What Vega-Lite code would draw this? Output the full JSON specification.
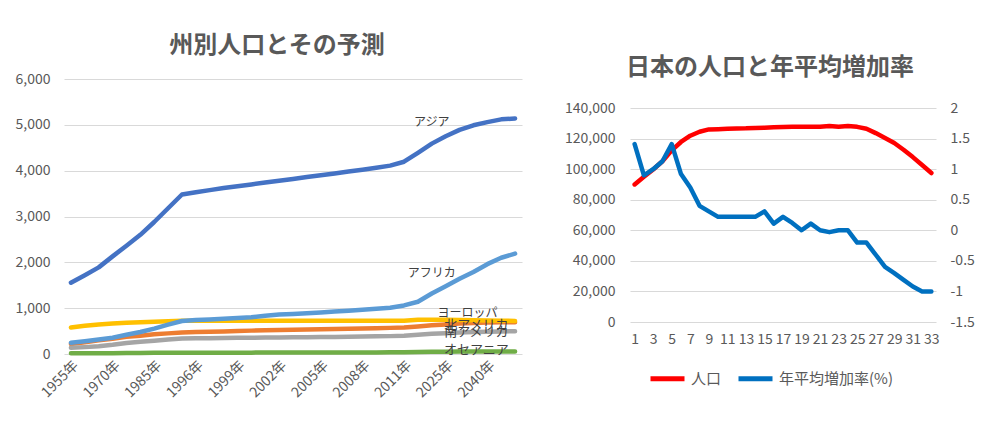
{
  "$schema": "https://vega.github.io/schema/vega-lite/v6.json",
  "background": "white",
  "padding": {"left": 15, "top": 34, "right": 5, "bottom": 5},
  "config": {
    "font": "Noto Sans CJK JP",
    "view": {"stroke": null},
    "axis": {"labelFont": "Noto Sans CJK JP", "labelFontSize": 14, "labelColor": "#595959", "domain": false, "ticks": false, "gridColor": "#D9D9D9", "gridWidth": 1, "title": null},
    "title": {"font": "Noto Sans CJK JP", "fontSize": 24, "fontWeight": "bold", "color": "#595959", "anchor": "middle", "frame": "group"}
  },
  "resolve": {"scale": {"color": "independent"}, "legend": {"color": "independent"}},
  "datasets": {
    "regions": [
      {"year": "1955年", "asia": 1555, "namerica": 220, "samerica": 135, "europe": 580, "africa": 246, "oceania": 15},
      {"year": "1960年", "asia": 1720, "namerica": 255, "samerica": 150, "europe": 615, "africa": 280, "oceania": 16},
      {"year": "1965年", "asia": 1890, "namerica": 300, "samerica": 170, "europe": 645, "africa": 315, "oceania": 18},
      {"year": "1970年", "asia": 2130, "namerica": 335, "samerica": 200, "europe": 665, "africa": 355, "oceania": 19},
      {"year": "1975年", "asia": 2360, "namerica": 375, "samerica": 240, "europe": 680, "africa": 420, "oceania": 21},
      {"year": "1980年", "asia": 2600, "namerica": 400, "samerica": 265, "europe": 692, "africa": 480, "oceania": 23},
      {"year": "1985年", "asia": 2880, "namerica": 430, "samerica": 290, "europe": 704, "africa": 555, "oceania": 25},
      {"year": "1990年", "asia": 3180, "namerica": 450, "samerica": 315, "europe": 715, "africa": 640, "oceania": 26},
      {"year": "1995年", "asia": 3480, "namerica": 470, "samerica": 340, "europe": 725, "africa": 720, "oceania": 28},
      {"year": "1996年", "asia": 3530, "namerica": 478, "samerica": 343, "europe": 726, "africa": 740, "oceania": 28},
      {"year": "1997年", "asia": 3575, "namerica": 485, "samerica": 346, "europe": 726, "africa": 755, "oceania": 29},
      {"year": "1998年", "asia": 3620, "namerica": 493, "samerica": 349, "europe": 727, "africa": 770, "oceania": 29},
      {"year": "1999年", "asia": 3660, "namerica": 500, "samerica": 352, "europe": 727, "africa": 785, "oceania": 30},
      {"year": "2000年", "asia": 3700, "namerica": 510, "samerica": 355, "europe": 727, "africa": 800, "oceania": 30},
      {"year": "2001年", "asia": 3740, "namerica": 520, "samerica": 358, "europe": 727, "africa": 835, "oceania": 31},
      {"year": "2002年", "asia": 3780, "namerica": 525, "samerica": 361, "europe": 727, "africa": 860, "oceania": 31},
      {"year": "2003年", "asia": 3820, "namerica": 530, "samerica": 364, "europe": 727, "africa": 875, "oceania": 32},
      {"year": "2004年", "asia": 3860, "namerica": 535, "samerica": 367, "europe": 727, "africa": 890, "oceania": 32},
      {"year": "2005年", "asia": 3900, "namerica": 540, "samerica": 370, "europe": 727, "africa": 905, "oceania": 33},
      {"year": "2006年", "asia": 3940, "namerica": 545, "samerica": 373, "europe": 727, "africa": 925, "oceania": 33},
      {"year": "2007年", "asia": 3980, "namerica": 550, "samerica": 376, "europe": 727, "africa": 945, "oceania": 34},
      {"year": "2008年", "asia": 4020, "namerica": 555, "samerica": 380, "europe": 727, "africa": 965, "oceania": 34},
      {"year": "2009年", "asia": 4065, "namerica": 560, "samerica": 385, "europe": 728, "africa": 985, "oceania": 35},
      {"year": "2010年", "asia": 4110, "namerica": 570, "samerica": 390, "europe": 728, "africa": 1010, "oceania": 36},
      {"year": "2011年", "asia": 4195, "namerica": 580, "samerica": 400, "europe": 728, "africa": 1060, "oceania": 37},
      {"year": "2015年", "asia": 4390, "namerica": 600, "samerica": 420, "europe": 745, "africa": 1140, "oceania": 45},
      {"year": "2020年", "asia": 4590, "namerica": 625, "samerica": 440, "europe": 748, "africa": 1320, "oceania": 48},
      {"year": "2025年", "asia": 4750, "namerica": 645, "samerica": 455, "europe": 745, "africa": 1480, "oceania": 50},
      {"year": "2030年", "asia": 4890, "namerica": 665, "samerica": 470, "europe": 740, "africa": 1640, "oceania": 52},
      {"year": "2035年", "asia": 4990, "namerica": 675, "samerica": 480, "europe": 735, "africa": 1790, "oceania": 53},
      {"year": "2040年", "asia": 5060, "namerica": 685, "samerica": 488, "europe": 730, "africa": 1960, "oceania": 54},
      {"year": "2045年", "asia": 5120, "namerica": 690, "samerica": 493, "europe": 725, "africa": 2100, "oceania": 55},
      {"year": "2050年", "asia": 5140, "namerica": 695, "samerica": 495, "europe": 722, "africa": 2190, "oceania": 55}
    ],
    "labels": [
      {"label": "アジア", "year": "2020年", "value": 5060},
      {"label": "アフリカ", "year": "2020年", "value": 1760},
      {"label": "ヨーロッパ", "year": "2035年", "value": 905},
      {"label": "北アメリカ", "year": "2035年", "value": 633},
      {"label": "南アメリカ", "year": "2035年", "value": 487},
      {"label": "オセアニア", "year": "2035年", "value": 87}
    ],
    "japan": [
      {"i": 1, "pop": 90000, "rate": 1.41},
      {"i": 2, "pop": 95000, "rate": 0.90},
      {"i": 3, "pop": 99800, "rate": 1.00},
      {"i": 4, "pop": 105200, "rate": 1.13},
      {"i": 5, "pop": 112300, "rate": 1.41},
      {"i": 6, "pop": 117800, "rate": 0.92},
      {"i": 7, "pop": 121900, "rate": 0.70},
      {"i": 8, "pop": 124500, "rate": 0.40},
      {"i": 9, "pop": 126000, "rate": 0.31},
      {"i": 10, "pop": 126200, "rate": 0.22},
      {"i": 11, "pop": 126500, "rate": 0.22},
      {"i": 12, "pop": 126600, "rate": 0.22},
      {"i": 13, "pop": 126700, "rate": 0.22},
      {"i": 14, "pop": 127000, "rate": 0.22},
      {"i": 15, "pop": 127100, "rate": 0.31},
      {"i": 16, "pop": 127400, "rate": 0.11},
      {"i": 17, "pop": 127600, "rate": 0.22},
      {"i": 18, "pop": 127700, "rate": 0.12},
      {"i": 19, "pop": 127700, "rate": 0.00},
      {"i": 20, "pop": 127700, "rate": 0.11},
      {"i": 21, "pop": 127800, "rate": 0.00},
      {"i": 22, "pop": 128300, "rate": -0.03},
      {"i": 23, "pop": 127800, "rate": 0.00},
      {"i": 24, "pop": 128200, "rate": 0.00},
      {"i": 25, "pop": 127700, "rate": -0.20},
      {"i": 26, "pop": 126500, "rate": -0.20},
      {"i": 27, "pop": 123600, "rate": -0.40},
      {"i": 28, "pop": 120400, "rate": -0.60},
      {"i": 29, "pop": 117100, "rate": -0.70},
      {"i": 30, "pop": 112700, "rate": -0.81},
      {"i": 31, "pop": 107900, "rate": -0.92},
      {"i": 32, "pop": 102700, "rate": -1.00},
      {"i": 33, "pop": 97500, "rate": -1.00}
    ]
  },
  "spacing": 42,
  "hconcat": [
    {
      "width": 458,
      "height": 275,
      "title": {"text": "州別人口とその予測", "dx": -16, "offset": 14},
      "layer": [
        {
          "data": {"name": "regions"},
          "transform": [{"fold": ["asia", "namerica", "samerica", "europe", "africa", "oceania"], "as": ["region", "value"]}],
          "mark": {"type": "line", "strokeWidth": 4.5, "strokeCap": "round", "strokeJoin": "round"},
          "encoding": {
            "x": {"field": "year", "type": "ordinal", "scale": {"type": "point", "padding": 0.5},
                  "axis": {"values": ["1955年", "1970年", "1985年", "1996年", "1999年", "2002年", "2005年", "2008年", "2011年", "2025年", "2040年"], "labelAngle": -45, "grid": false, "labelPadding": 4}},
            "y": {"field": "value", "type": "quantitative", "scale": {"domain": [0, 6000], "nice": false},
                  "axis": {"values": [0, 1000, 2000, 3000, 4000, 5000, 6000], "format": ",d", "labelPadding": 14, "grid": true}},
            "color": {"field": "region", "type": "nominal", "sort": null,
                      "scale": {"domain": ["asia", "namerica", "samerica", "europe", "africa", "oceania"], "range": ["#4472C4", "#ED7D31", "#A5A5A5", "#FFC000", "#5B9BD5", "#70AD47"]},
                      "legend": null}
          }
        },
        {
          "data": {"name": "labels"},
          "transform": [{"filter": "datum.label == 'アジア' || datum.label == 'アフリカ'"}],
          "mark": {"type": "text", "fontSize": 12, "color": "#404040", "align": "center", "baseline": "middle"},
          "encoding": {
            "x": {"field": "year", "type": "ordinal"},
            "y": {"field": "value", "type": "quantitative"},
            "text": {"field": "label"}
          }
        },
        {
          "data": {"name": "labels"},
          "transform": [{"filter": "datum.label == 'ヨーロッパ'"}],
          "mark": {"type": "text", "fontSize": 12, "color": "#404040", "align": "center", "baseline": "middle", "dx": -6},
          "encoding": {
            "x": {"field": "year", "type": "ordinal"},
            "y": {"field": "value", "type": "quantitative"},
            "text": {"field": "label"}
          }
        },
        {
          "data": {"name": "labels"},
          "transform": [{"filter": "datum.label == '北アメリカ' || datum.label == '南アメリカ' || datum.label == 'オセアニア'"}],
          "mark": {"type": "text", "fontSize": 13, "color": "#404040", "align": "center", "baseline": "middle", "dx": 3},
          "encoding": {
            "x": {"field": "year", "type": "ordinal"},
            "y": {"field": "value", "type": "quantitative"},
            "text": {"field": "label"}
          }
        }
      ]
    },
    {
      "width": 306,
      "height": 243,
      "title": {"text": "日本の人口と年平均増加率", "dx": -13, "offset": -1},
      "data": {"name": "japan"},
      "layer": [
        {
          "mark": {"type": "line", "strokeWidth": 4.5, "strokeCap": "round", "strokeJoin": "round"},
          "encoding": {
            "x": {"field": "i", "type": "ordinal", "scale": {"type": "point", "padding": 0.5},
                  "axis": {"values": [1, 3, 5, 7, 9, 11, 13, 15, 17, 19, 21, 23, 25, 27, 29, 31, 33], "labelAngle": 0, "grid": false, "labelPadding": 10}},
            "y": {"field": "pop", "type": "quantitative", "scale": {"domain": [0, 159000], "nice": false},
                  "axis": {"values": [0, 20000, 40000, 60000, 80000, 100000, 120000, 140000], "format": ",d", "labelPadding": 15, "grid": true}},
            "color": {"datum": "人口", "type": "nominal",
                      "scale": {"domain": ["人口", "年平均増加率(%)"], "range": ["#FF0000", "#0070C0"]},
                      "legend": {"title": null, "orient": "none", "legendX": 18, "legendY": 280, "direction": "horizontal", "symbolType": "stroke", "symbolSize": 1156, "symbolStrokeWidth": 5, "labelFontSize": 15, "labelColor": "#595959", "labelFont": "Noto Sans CJK JP", "columnPadding": 6, "labelOffset": 4}}
          }
        },
        {
          "mark": {"type": "line", "strokeWidth": 4.5, "strokeCap": "round", "strokeJoin": "round"},
          "encoding": {
            "x": {"field": "i", "type": "ordinal"},
            "y": {"field": "rate", "type": "quantitative", "scale": {"domain": [-1.5, 2.475], "nice": false},
                  "axis": {"orient": "right", "values": [-1.5, -1, -0.5, 0, 0.5, 1, 1.5, 2], "grid": false, "labelPadding": 14,
                           "labelExpr": "replace(format(datum.value, '~g'), '−', '-')"}},
            "color": {"datum": "年平均増加率(%)", "type": "nominal"}
          }
        }
      ],
      "resolve": {"scale": {"y": "independent"}}
    }
  ]
}
